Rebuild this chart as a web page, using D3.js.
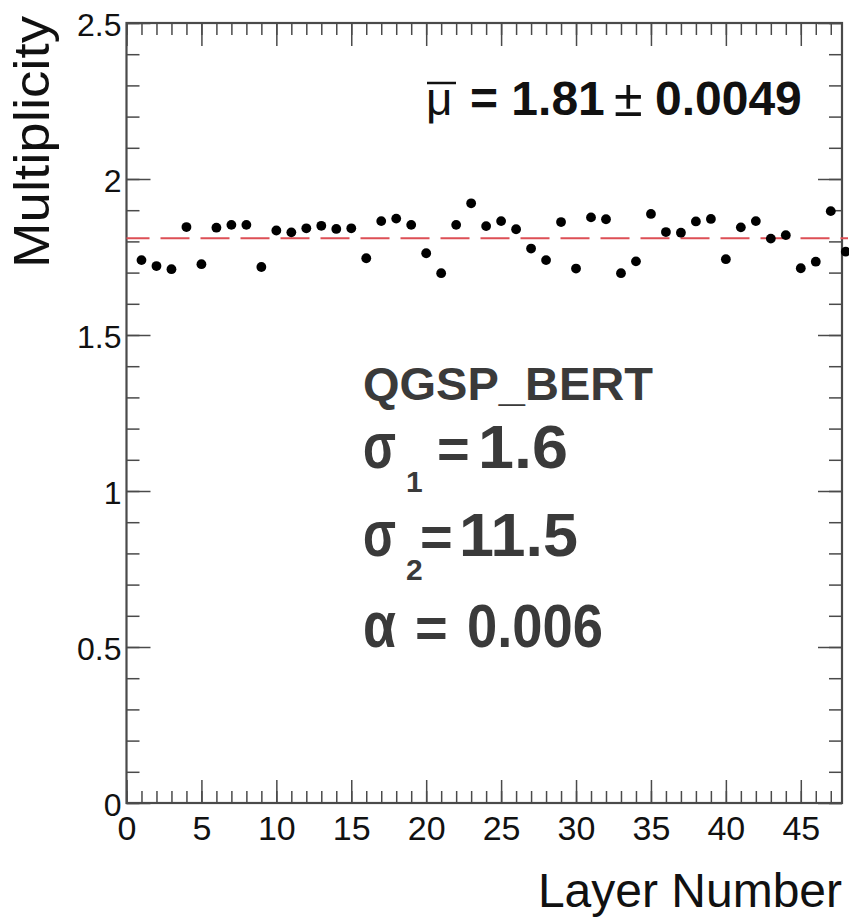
<!DOCTYPE html>
<html>
<head>
<meta charset="utf-8">
<script src="https://cdn.jsdelivr.net/npm/d3@7"></script>
<style>
  html, body { margin: 0; padding: 0; background: #ffffff; }
  svg { display: block; }
  text { font-family: "Liberation Sans", Arial, Helvetica, sans-serif; }
</style>
</head>
<body>
<svg id="chart" width="849" height="922"></svg>
<script>
// Mean hit multiplicity per calorimeter layer
const layers = [1, 2, 3, 4, 5, 6, 7, 8, 9, 10, 11, 12, 13, 14, 15, 16, 17, 18, 19, 20,
                21, 22, 23, 24, 25, 26, 27, 28, 29, 30, 31, 32, 33, 34, 35, 36, 37, 38, 39, 40,
                41, 42, 43, 44, 45, 46, 47, 48];
const multiplicity = [1.740, 1.721, 1.711, 1.846, 1.727, 1.844, 1.853, 1.853, 1.718, 1.835,
                      1.829, 1.842, 1.850, 1.840, 1.842, 1.746, 1.865, 1.873, 1.853, 1.762,
                      1.698, 1.853, 1.922, 1.849, 1.865, 1.839, 1.777, 1.740, 1.862, 1.713,
                      1.877, 1.871, 1.698, 1.736, 1.888, 1.830, 1.828, 1.864, 1.872, 1.743,
                      1.845, 1.865, 1.809, 1.820, 1.714, 1.735, 1.897, 1.767];

const meanValue = 1.81;
const meanLabel = "1.81";
const meanErrorLabel = "0.0049";

const xTicks = [0, 5, 10, 15, 20, 25, 30, 35, 40, 45];
const xTickLabels = ["0", "5", "10", "15", "20", "25", "30", "35", "40", "45"];
const yTicks = [0, 0.5, 1, 1.5, 2, 2.5];
const yTickLabels = ["0", "0.5", "1", "1.5", "2", "2.5"];
const xMinorTicks = [0, 1, 2, 3, 4, 5, 6, 7, 8, 9, 10, 11, 12, 13, 14, 15, 16, 17, 18, 19, 20,
                     21, 22, 23, 24, 25, 26, 27, 28, 29, 30, 31, 32, 33, 34, 35, 36, 37, 38, 39,
                     40, 41, 42, 43, 44, 45, 46, 47];
const yMinorTicks = [0, 0.1, 0.2, 0.3, 0.4, 0.5, 0.6, 0.7, 0.8, 0.9, 1, 1.1, 1.2, 1.3, 1.4,
                     1.5, 1.6, 1.7, 1.8, 1.9, 2, 2.1, 2.2, 2.3, 2.4, 2.5];

const modelName = "QGSP_BERT";
const sigma1 = "1.6";
const sigma2 = "11.5";
const alphaValue = "0.006";

const xTitle = "Layer Number";
const yTitle = "Multiplicity";

// frame geometry
const frameL = 126.5, frameR = 842, frameT = 23, frameB = 803;
const frameColor = "#4a4a4a";
const textGray = "#3a3a3a";

const svg = d3.select("#chart");
svg.append("rect").attr("width", 849).attr("height", 922).attr("fill", "#ffffff");

const x = d3.scaleLinear().domain([0, 47.75]).range([frameL, frameR]);
const y = d3.scaleLinear().domain([0, 2.5]).range([frameB, frameT]);

function styleAxis(g) {
  g.select(".domain").remove();
  g.selectAll(".tick line").attr("stroke", frameColor).attr("stroke-width", 1.5);
}

// bottom axis: major ticks with labels, minor ticks
svg.append("g").attr("transform", `translate(0,${frameB})`)
  .call(d3.axisBottom(x).tickValues(xMinorTicks).tickSize(-12).tickFormat(""))
  .call(styleAxis);
const xAxisG = svg.append("g").attr("transform", `translate(0,${frameB})`)
  .call(d3.axisBottom(x).tickValues(xTicks).tickSize(-23).tickPadding(13)
        .tickFormat((d, i) => xTickLabels[i]))
  .call(styleAxis);
xAxisG.selectAll(".tick text")
  .attr("font-size", 34).attr("fill", "#111").attr("font-family", "Liberation Sans, Arial, sans-serif");

// top axis (ticks only)
svg.append("g").attr("transform", `translate(0,${frameT})`)
  .call(d3.axisTop(x).tickValues(xMinorTicks).tickSize(-12).tickFormat(""))
  .call(styleAxis);
svg.append("g").attr("transform", `translate(0,${frameT})`)
  .call(d3.axisTop(x).tickValues(xTicks).tickSize(-23).tickFormat(""))
  .call(styleAxis);

// left axis
svg.append("g").attr("transform", `translate(${frameL},0)`)
  .call(d3.axisLeft(y).tickValues(yMinorTicks).tickSize(-13).tickFormat(""))
  .call(styleAxis);
const yAxisG = svg.append("g").attr("transform", `translate(${frameL},0)`)
  .call(d3.axisLeft(y).tickValues(yTicks).tickSize(-24).tickPadding(5)
        .tickFormat((d, i) => yTickLabels[i]))
  .call(styleAxis);
yAxisG.selectAll(".tick text")
  .attr("font-size", 32).attr("fill", "#111").attr("dy", "0.4em")
  .attr("font-family", "Liberation Sans, Arial, sans-serif");

// right axis (ticks only)
svg.append("g").attr("transform", `translate(${frameR},0)`)
  .call(d3.axisRight(y).tickValues(yMinorTicks).tickSize(-13).tickFormat(""))
  .call(styleAxis);
svg.append("g").attr("transform", `translate(${frameR},0)`)
  .call(d3.axisRight(y).tickValues(yTicks).tickSize(-24).tickFormat(""))
  .call(styleAxis);

// frame
svg.append("rect")
  .attr("x", frameL).attr("y", frameT)
  .attr("width", frameR - frameL).attr("height", frameB - frameT)
  .attr("fill", "none").attr("stroke", frameColor).attr("stroke-width", 2.2);

// mean line
svg.append("line")
  .attr("x1", x(0)).attr("x2", frameR + 6)
  .attr("y1", y(meanValue)).attr("y2", y(meanValue))
  .attr("stroke", "#dd4f55").attr("stroke-width", 2)
  .attr("stroke-dasharray", "29,11").attr("stroke-dashoffset", 6);

// data points
svg.append("g").selectAll("circle")
  .data(layers.map((l, i) => ({ l, v: multiplicity[i] })))
  .join("circle")
  .attr("cx", d => x(d.l)).attr("cy", d => y(d.v))
  .attr("r", 4.9).attr("fill", "#000");

// axis titles
svg.append("text")
  .attr("x", 842).attr("y", 907)
  .attr("text-anchor", "end").attr("font-size", 48).attr("fill", "#111")
  .text(xTitle);

svg.append("text")
  .attr("transform", "translate(49,268) rotate(-90)")
  .attr("x", 0).attr("y", 0)
  .attr("font-size", 50).attr("fill", "#111")
  .attr("textLength", 252).attr("lengthAdjust", "spacingAndGlyphs")
  .text(yTitle);

// mean annotation
const meanG = svg.append("g");
meanG.append("text")
  .attr("x", 426).attr("y", 115)
  .attr("font-family", "Liberation Serif, DejaVu Serif, serif")
  .attr("font-size", 46).attr("fill", "#111")
  .text("μ");
meanG.append("line")
  .attr("x1", 427).attr("x2", 456).attr("y1", 83).attr("y2", 83)
  .attr("stroke", "#111").attr("stroke-width", 2.5);
meanG.append("text")
  .attr("x", 470).attr("y", 115)
  .attr("font-size", 48).attr("font-weight", "bold").attr("fill", "#111")
  .text("= " + meanLabel);
meanG.append("text")
  .attr("x", 614).attr("y", 116)
  .attr("font-size", 52).attr("fill", "#111")
  .text("±");
meanG.append("text")
  .attr("x", 655).attr("y", 115)
  .attr("font-size", 48).attr("font-weight", "bold").attr("fill", "#111")
  .text(meanErrorLabel);

// model parameters
const paramG = svg.append("g").attr("fill", textGray).attr("font-weight", "bold");
paramG.append("text")
  .attr("x", 363).attr("y", 400).attr("font-size", 47)
  .text(modelName);

function paramLine(baseline, symbol, sub, eqX, value, valueX, valueLen) {
  paramG.append("text").attr("x", 363).attr("y", baseline).attr("font-size", 64)
    .attr("textLength", 33).attr("lengthAdjust", "spacingAndGlyphs")
    .text(symbol);
  if (sub) {
    paramG.append("text").attr("x", 406).attr("y", baseline + 24).attr("font-size", 30).text(sub);
  }
  paramG.append("text").attr("x", eqX).attr("y", baseline).attr("font-size", 56)
    .text("=");
  paramG.append("text").attr("x", valueX).attr("y", baseline).attr("font-size", 62)
    .attr("textLength", valueLen).attr("lengthAdjust", "spacingAndGlyphs")
    .text(value);
}
paramLine(468, "σ", "1", 437, sigma1, 478, 90);
paramLine(556, "σ", "2", 420, sigma2, 459, 119);
paramLine(647, "α", null, 415, alphaValue, 467, 136);
</script>
</body>
</html>
